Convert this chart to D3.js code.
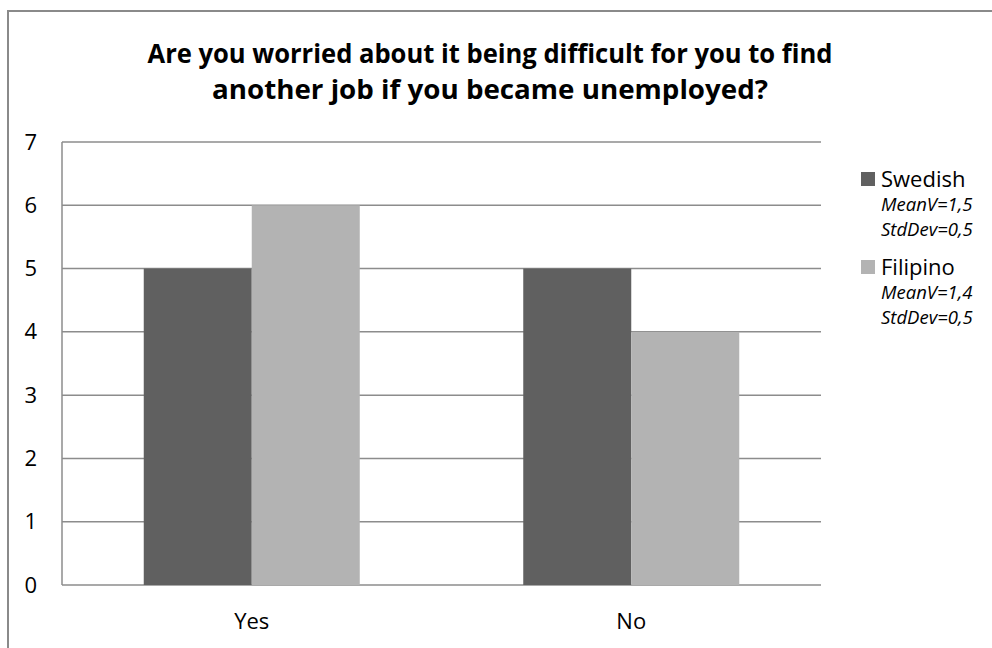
<!DOCTYPE html>
<html>
<head>
<meta charset="utf-8">
<script src="https://cdn.jsdelivr.net/npm/d3@7"></script>
<style>
  html, body { margin: 0; padding: 0; background: #fff; }
  svg { display: block; font-family: "Open Sans", Lato, sans-serif; }
</style>
</head>
<body>
<svg id="chart" width="992" height="648"></svg>
<script>
// Survey answers: counts of respondents per answer, per group
const categories = ["Yes", "No"];
const seriesNames = ["Swedish", "Filipino"];
const swedish = [5, 5];
const filipino = [6, 4];
const seriesStats = [["MeanV=1,5", "StdDev=0,5"], ["MeanV=1,4", "StdDev=0,5"]];
const yTicks = [0, 1, 2, 3, 4, 5, 6, 7];
const titleLines = [
  "Are you worried about it being difficult for you to find",
  "another job if you became unemployed?"
];

const colors = ["#606060", "#b3b3b3"];
const series = [swedish, filipino];
const font = "'Open Sans', Lato, sans-serif";

const svg = d3.select("#chart");

// outer chart frame
svg.append("rect")
  .attr("x", 8).attr("y", 11)
  .attr("width", 1000).attr("height", 700)
  .attr("fill", "none").attr("stroke", "#8a8a8a").attr("stroke-width", 2);

// title, condensed to the headline width
const title = svg.append("g").attr("font-weight", "bold").attr("font-size", 27)
  .attr("text-anchor", "middle").attr("fill", "#000");
const titleWidths = [685, 556];
titleLines.forEach((t, i) => {
  title.append("text").attr("x", 490).attr("y", 63 + i * 36)
    .attr("textLength", titleWidths[i]).attr("lengthAdjust", "spacingAndGlyphs")
    .text(t);
});

const plot = { left: 62, right: 821, top: 142, bottom: 585 };
const groupWidth = 216;

const x0 = d3.scaleBand().domain(categories)
  .range([plot.left, plot.right]).paddingInner(0).paddingOuter(0);
const x1 = d3.scaleBand().domain(seriesNames).range([0, groupWidth]);
const y = d3.scaleLinear().domain([0, 7]).range([plot.bottom, plot.top]);

// gridlines
svg.append("g").selectAll("line").data(yTicks).join("line")
  .attr("x1", plot.left).attr("x2", plot.right)
  .attr("y1", d => y(d)).attr("y2", d => y(d))
  .attr("stroke", "#8c8c8c").attr("stroke-width", 1.5);

// bars
const groups = svg.append("g").selectAll("g").data(categories).join("g")
  .attr("transform", c => `translate(${x0(c) + (x0.bandwidth() - groupWidth) / 2},0)`);
groups.selectAll("rect")
  .data((c, ci) => seriesNames.map((s, si) => ({ s, si, v: series[si][ci] })))
  .join("rect")
  .attr("x", d => x1(d.s))
  .attr("width", x1.bandwidth())
  .attr("y", d => y(d.v))
  .attr("height", d => y(0) - y(d.v))
  .attr("fill", d => colors[d.si]);

// y axis line
svg.append("line")
  .attr("x1", plot.left).attr("x2", plot.left)
  .attr("y1", plot.top).attr("y2", plot.bottom)
  .attr("stroke", "#8c8c8c").attr("stroke-width", 1.5);

// y tick labels
const yAxis = d3.axisLeft(y).tickValues(yTicks).tickSize(0).tickPadding(0).tickFormat(d3.format("d"));
const gy = svg.append("g").attr("transform", `translate(37,0)`).call(yAxis);
gy.select(".domain").remove();
gy.selectAll("text").attr("font-size", 22).attr("font-family", font).attr("fill", "#000");

// x tick labels
const xAxis = d3.axisBottom(x0).tickSize(0).tickPadding(0);
const gx = svg.append("g").attr("transform", `translate(0,613)`).call(xAxis);
gx.select(".domain").remove();
gx.selectAll("text").attr("font-size", 22).attr("font-family", font).attr("fill", "#000");

// legend
const legend = svg.append("g");
seriesNames.forEach((s, i) => {
  const top = 172 + i * 88;
  legend.append("rect").attr("x", 861).attr("y", top).attr("width", 14).attr("height", 14)
    .attr("fill", colors[i]);
  legend.append("text").attr("x", 881).attr("y", top + 15).attr("font-size", 22)
    .attr("fill", "#000").text(s);
  seriesStats[i].forEach((t, j) => {
    legend.append("text").attr("x", 881).attr("y", top + 39 + j * 25)
      .attr("font-size", 18.5).attr("font-style", "italic").attr("fill", "#000").text(t);
  });
});
</script>
</body>
</html>
